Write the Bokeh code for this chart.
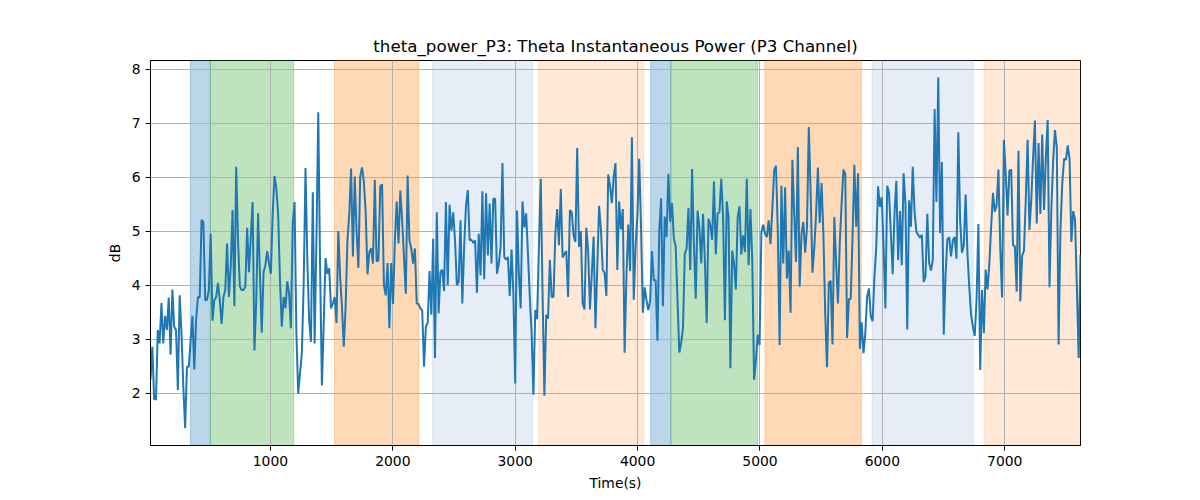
import numpy as np
from bokeh.plotting import figure
from bokeh.models import Range1d, FixedTicker, BoxAnnotation, ColumnDataSource
from bokeh.embed import file_html
from bokeh.resources import INLINE

# ---- data ----
T0 = 20.0      # first sample time (s)
DT = 14.9      # sample step (s)

power_seg1 = [2.25, 2.86, 1.89, 1.88, 3.17, 2.92, 3.67, 2.92, 3.43, 3.17,
              3.77, 2.71, 3.92, 3.23, 3.17, 2.06, 3.81, 3.11, 2.12, 1.35,
              2.49, 2.49, 2.98, 3.43, 2.44, 3.35, 3.78, 3.77, 5.21, 5.17,
              3.72, 3.73, 3.91, 4.95, 3.34, 3.72, 3.78, 4.04, 3.72, 3.28,
              3.78, 3.91, 4.77, 3.78, 4.34, 5.39, 3.61, 6.19, 4.83, 3.97,
              3.91, 3.91, 3.97, 5.06, 4.24, 4.89, 5.54, 2.79, 3.72, 5.33,
              4.21, 3.12, 4.24, 4.37, 4.63, 4.40, 4.21, 5.32, 6.02, 5.80,
              5.32, 4.09, 3.23]
power_seg2 = [3.78, 3.57, 4.07, 3.84, 3.20, 5.14, 5.54, 3.11, 1.99, 2.37,
              2.74, 4.03, 6.17, 4.46, 3.35, 2.95, 5.72, 2.92, 4.83, 7.20,
              4.34, 2.14, 3.29, 4.50, 4.21, 4.31, 3.57, 3.66, 3.78, 3.30,
              5.00, 4.15, 3.60, 2.86, 3.60, 4.83, 5.32, 6.16, 4.53, 6.01,
              5.01, 4.32, 6.01, 6.18, 5.91, 5.35, 4.20, 4.61, 4.68, 4.40,
              5.95, 4.44, 4.46, 5.83, 5.87, 4.00, 3.81, 4.41, 3.20, 4.41,
              3.65, 4.83, 5.55, 4.77, 5.75, 5.20, 4.52, 3.84, 6.03, 4.83,
              4.68, 4.40, 4.68, 3.66]
power_seg3 = [3.65, 3.57, 3.53, 2.49, 3.23, 3.30, 4.26, 3.45, 4.86, 2.65,
              5.35, 3.48, 4.24, 4.29, 3.89, 5.54, 4.00, 5.49, 5.01, 5.35,
              4.83, 4.00, 4.06, 5.20, 3.66, 4.71, 5.47, 5.76, 4.83, 4.84,
              4.78, 4.83, 3.86, 4.95, 4.18, 5.74, 4.11, 5.70, 4.55, 5.51,
              4.40, 5.60, 5.60, 4.21, 4.40, 4.71, 6.26, 4.52, 4.47, 4.52,
              3.80, 4.66, 3.84, 2.18, 5.38, 4.21, 3.57, 5.55, 5.07, 5.33,
              4.58, 3.78, 3.11, 1.97, 3.54, 3.37, 4.71, 5.97, 3.84, 1.95,
              3.45, 3.38, 4.47, 3.78]
power_seg4 = [3.78, 4.95, 5.41, 4.74, 5.78, 4.51, 4.58, 4.63, 3.78, 5.39,
              5.35, 4.92, 4.80, 6.54, 4.71, 5.00, 3.66, 3.55, 5.06, 4.64,
              3.55, 4.21, 4.90, 3.20, 4.31, 5.47, 5.04, 4.28, 4.23, 3.80,
              6.05, 5.84, 5.52, 6.01, 6.26, 4.28, 5.55, 5.03, 5.41, 2.75,
              4.16, 5.12, 4.26, 6.74, 3.73, 4.71, 5.29, 6.34, 5.07, 3.49,
              3.96, 3.72, 3.54, 3.72, 4.63, 4.09, 4.09, 2.97, 5.00, 5.61,
              3.61, 5.27, 4.89, 6.06, 5.17, 5.52, 4.86, 4.72, 3.73, 2.75,
              2.93, 3.20, 4.58, 4.68]
power_seg5 = [5.43, 4.28, 6.15, 4.77, 3.75, 5.38, 5.07, 4.40, 5.32, 4.46,
              3.30, 5.23, 5.11, 4.84, 5.92, 4.57, 5.33, 5.35, 5.97, 5.26,
              3.35, 5.55, 5.26, 2.46, 4.64, 4.40, 3.92, 5.26, 5.46, 4.57,
              4.92, 4.61, 5.97, 4.37, 5.41, 4.46, 2.25, 2.61, 3.08, 2.89,
              4.98, 5.12, 4.95, 4.89, 5.20, 4.76, 5.41, 6.12, 6.21, 5.01,
              2.89, 5.84, 4.40, 5.81, 4.12, 4.64, 3.49, 6.32, 5.32, 4.43,
              6.56, 3.97, 4.95, 5.17, 4.60, 5.07, 6.93, 5.72, 4.23, 4.68,
              5.32, 6.18, 5.15]
power_seg6 = [5.89, 4.96, 3.48, 2.48, 4.05, 4.08, 2.90, 5.26, 4.40, 3.66,
              4.80, 5.51, 6.14, 6.06, 3.02, 3.74, 3.75, 4.89, 6.23, 5.08,
              6.07, 2.82, 3.31, 2.74, 3.12, 3.79, 3.94, 3.42, 3.33, 4.16,
              4.71, 5.83, 5.45, 5.63, 4.72, 3.57, 5.84, 5.71, 4.96, 4.20,
              5.32, 5.93, 4.46, 5.37, 4.37, 6.07, 5.51, 3.18, 5.57, 5.08,
              6.19, 5.36, 4.99, 4.93, 4.88, 4.93, 4.06, 4.16, 5.32, 4.41,
              4.27, 4.46, 7.26, 5.54, 7.85, 4.96, 6.28, 3.08, 4.19, 4.85,
              4.89, 4.53, 4.83, 4.89, 4.49]
power_seg7 = [6.83, 5.20, 4.60, 4.74, 5.68, 4.59, 3.97, 3.45, 3.23, 3.06,
              3.73, 5.13, 2.43, 3.91, 3.11, 4.29, 3.92, 4.39, 5.08, 5.71,
              5.36, 5.48, 6.14, 4.68, 3.77, 6.69, 6.06, 5.29, 6.12, 6.14,
              4.74, 4.72, 3.88, 6.49, 3.70, 4.54, 4.64, 5.60, 6.69, 5.02,
              5.57, 6.37, 7.05, 5.14, 6.63, 5.32, 6.79, 5.39, 6.37, 7.06,
              3.96, 5.39, 6.31, 6.87, 6.55, 2.90, 5.02, 5.88, 6.34, 6.32,
              6.59, 6.34, 4.80, 5.37, 5.21, 3.97, 2.65, 4.56]

span_starts = [346, 509, 1523, 2325, 3192, 4107, 4272, 5040, 5916, 6830]
span_ends   = [509, 1190, 2212, 3142, 4050, 4272, 4981, 5828, 6742, 7700]
span_kinds  = ["blue", "green", "orange", "lightblue", "lightorange",
               "blue", "green", "orange", "lightblue", "lightorange"]

x_ticks = [1000, 2000, 3000, 4000, 5000, 6000, 7000]
y_ticks = [2, 3, 4, 5, 6, 7, 8]

# ---- build ----
power = np.array(power_seg1 + power_seg2 + power_seg3 + power_seg4 +
                 power_seg5 + power_seg6 + power_seg7)
times = T0 + DT * np.arange(len(power))

span_style = {
    "blue": ("#1f77b4", 0.3),
    "green": ("#2ca02c", 0.3),
    "orange": ("#ff7f0e", 0.3),
    "lightblue": ("#9db7dc", 0.25),
    "lightorange": ("#ff7f0e", 0.17),
}

FONT = "DejaVu Sans"

p = figure(width=1200, height=500, output_backend="svg", toolbar_location=None,
           x_range=Range1d(times[0], times[-1]), y_range=Range1d(1.03, 8.16),
           min_border_left=150, min_border_right=120,
           min_border_top=60, min_border_bottom=55,
           title="theta_power_P3: Theta Instantaneous Power (P3 Channel)")

for s, e, k in zip(span_starts, span_ends, span_kinds):
    c, a = span_style[k]
    box = BoxAnnotation(left=s, right=e, fill_color=c, fill_alpha=a,
                        line_color=c, line_alpha=a, line_width=1, level="image")
    p.add_layout(box)

src = ColumnDataSource(dict(t=times, v=power))
p.line("t", "v", source=src, line_color="#1f77b4", line_width=2)

p.title.text_font = FONT
p.title.text_font_size = "16.7px"
p.title.text_font_style = "normal"
p.title.align = "center"
p.title.text_color = "black"

p.xaxis.ticker = FixedTicker(ticks=x_ticks)
p.yaxis.ticker = FixedTicker(ticks=y_ticks)
p.xaxis.axis_label = "Time(s)"
p.yaxis.axis_label = "dB"
for ax in (p.xaxis, p.yaxis):
    ax.axis_label_text_font = FONT
    ax.axis_label_text_font_size = "13.9px"
    ax.axis_label_text_font_style = "normal"
    ax.axis_label_text_color = "black"
    ax.major_label_text_font = FONT
    ax.major_label_text_font_size = "13.9px"
    ax.major_label_text_color = "black"
    ax.major_tick_in = 0
    ax.major_tick_out = 5
    ax.major_tick_line_color = "black"
    ax.major_tick_line_width = 1
    ax.minor_tick_line_color = None
    ax.axis_line_color = "black"
    ax.axis_line_width = 1
    ax.axis_label_standoff = 6
p.yaxis.major_label_orientation = "horizontal"

p.grid.grid_line_color = "#b0b0b0"
p.grid.grid_line_width = 1
p.outline_line_color = "black"
p.outline_line_width = 1
p.background_fill_color = "white"
p.border_fill_color = "white"

open("out.html", "w").write(file_html(p, INLINE))
